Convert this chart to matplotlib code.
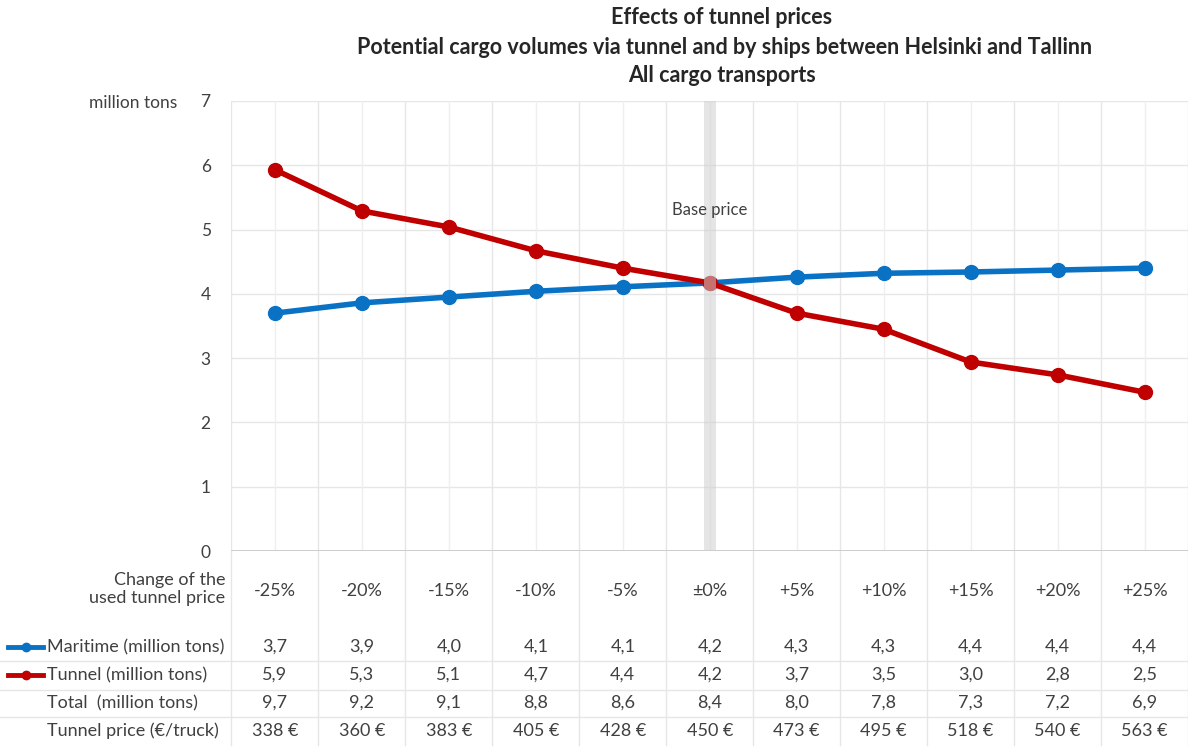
import matplotlib
matplotlib.use("Agg")
import matplotlib.pyplot as plt
from matplotlib.lines import Line2D
import matplotlib.transforms as mtrans

plt.rcParams['font.family'] = ['Lato', 'DejaVu Sans']

# ---- data ----
categories = ["-25%", "-20%", "-15%", "-10%", "-5%", "\u00b10%", "+5%", "+10%", "+15%", "+20%", "+25%"]
maritime_plot = [3.70, 3.86, 3.95, 4.04, 4.11, 4.17, 4.26, 4.32, 4.34, 4.37, 4.40]
tunnel_plot = [5.93, 5.29, 5.04, 4.67, 4.40, 4.17, 3.70, 3.45, 2.94, 2.74, 2.47]
maritime_tbl = [3.7, 3.9, 4.0, 4.1, 4.1, 4.2, 4.3, 4.3, 4.4, 4.4, 4.4]
tunnel_tbl = [5.9, 5.3, 5.1, 4.7, 4.4, 4.2, 3.7, 3.5, 3.0, 2.8, 2.5]
total_tbl = [9.7, 9.2, 9.1, 8.8, 8.6, 8.4, 8.0, 7.8, 7.3, 7.2, 6.9]
price_tbl = [338, 360, 383, 405, 428, 450, 473, 495, 518, 540, 563]
yticks = [0, 1, 2, 3, 4, 5, 6, 7]
base_index = 5

W, H = 1188, 747
fig = plt.figure(figsize=(W / 100, H / 100), dpi=100)
fig.patch.set_facecolor('white')

def fy(p):
    return 1 - p / H

ax = fig.add_axes([231.5 / W, fy(551), (W - 231.5) / W, (551 - 101) / H])
x = list(range(len(categories)))
ax.set_xlim(-0.5, len(categories) - 0.5)
ax.set_ylim(0, 7)
for s in ax.spines.values():
    s.set_visible(False)
ax.set_yticks(yticks)
ax.set_yticklabels([str(v) for v in yticks], fontsize=12.5, color='#404040')
ax.tick_params(axis='y', length=0, pad=15)
ax.set_xticks([])

grid_c = '#e6e6e6'
for v in yticks[1:]:
    ax.axhline(v, color=grid_c, lw=1.0, zorder=0)
for i in range(len(categories)):
    ax.axvline(i, color='#efefef', lw=1.0, zorder=0)
for i in range(len(categories) + 1):
    ax.axvline(i - 0.5, color=grid_c, lw=1.0, zorder=0)
ax.axhline(0, color='#c8c8c8', lw=2.0, zorder=1)

blue = '#0a72c4'
red = '#c00000'
ax.plot(x, maritime_plot, color=blue, lw=4.0, marker='o', ms=10, zorder=3, solid_capstyle='round')
ax.plot(x, tunnel_plot, color=red, lw=4.0, marker='o', ms=10, zorder=4, solid_capstyle='round')

ax.axvspan(base_index - 0.07, base_index + 0.07, color='#d0d0d0', alpha=0.55, lw=0, zorder=5)
ax.text(base_index, 5.30, "Base price", ha='center', va='center', fontsize=12, color='#404040', zorder=6)

# titles
tfs = 15.5
fig.text(722 / W, fy(18), "Effects of tunnel prices", ha='center', va='center', fontsize=tfs, fontweight='bold', color='#262626')
fig.text(725 / W, fy(47), "Potential cargo volumes via tunnel and by ships between Helsinki and Tallinn", ha='center', va='center', fontsize=tfs, fontweight='bold', color='#262626')
fig.text(722 / W, fy(75), "All cargo transports", ha='center', va='center', fontsize=tfs, fontweight='bold', color='#262626')
fig.text(133 / W, fy(103), "million tons", ha='center', va='center', fontsize=12.5, color='#404040')

# data table
trans = mtrans.blended_transform_factory(ax.transData, fig.transFigure)
tc = '#404040'
fs = 13
for i in range(len(categories) + 1):
    fig.add_artist(Line2D([i - 0.5, i - 0.5], [fy(551), fy(745)], transform=trans, color=grid_c, lw=1.0))
for yy in [661, 690, 717]:
    fig.add_artist(Line2D([0, 1], [fy(yy), fy(yy)], transform=fig.transFigure, color=grid_c, lw=1.0))

fig.text(225 / W, fy(589), "Change of the\nused tunnel price", ha='right', va='center', fontsize=fs, color=tc, linespacing=1.2)
rows_y = [647, 675, 703, 731]
row_labels = ["Maritime (million tons)", "Tunnel (million tons)", "Total  (million tons)", "Tunnel price (\u20ac/truck)"]
for lab, yy in zip(row_labels, rows_y):
    fig.text(47 / W, fy(yy), lab, ha='left', va='center', fontsize=fs, color=tc)
for col, yy in [(blue, 647), (red, 675)]:
    fig.add_artist(Line2D([8 / W, 43 / W], [fy(yy), fy(yy)], transform=fig.transFigure, color=col, lw=3.5))
    fig.add_artist(Line2D([26 / W], [fy(yy)], transform=fig.transFigure, color=col, marker='o', ms=6))

def fmt(v):
    return f"{v:.1f}".replace('.', ',')

for i in x:
    fig.text(i, fy(591), categories[i], transform=trans, ha='center', va='center', fontsize=fs, color=tc)
    fig.text(i, fy(647), fmt(maritime_tbl[i]), transform=trans, ha='center', va='center', fontsize=fs, color=tc)
    fig.text(i, fy(675), fmt(tunnel_tbl[i]), transform=trans, ha='center', va='center', fontsize=fs, color=tc)
    fig.text(i, fy(703), fmt(total_tbl[i]), transform=trans, ha='center', va='center', fontsize=fs, color=tc)
    fig.text(i, fy(731), f"{price_tbl[i]} \u20ac", transform=trans, ha='center', va='center', fontsize=fs, color=tc)

fig.savefig("out.png", dpi=100, facecolor='white')
